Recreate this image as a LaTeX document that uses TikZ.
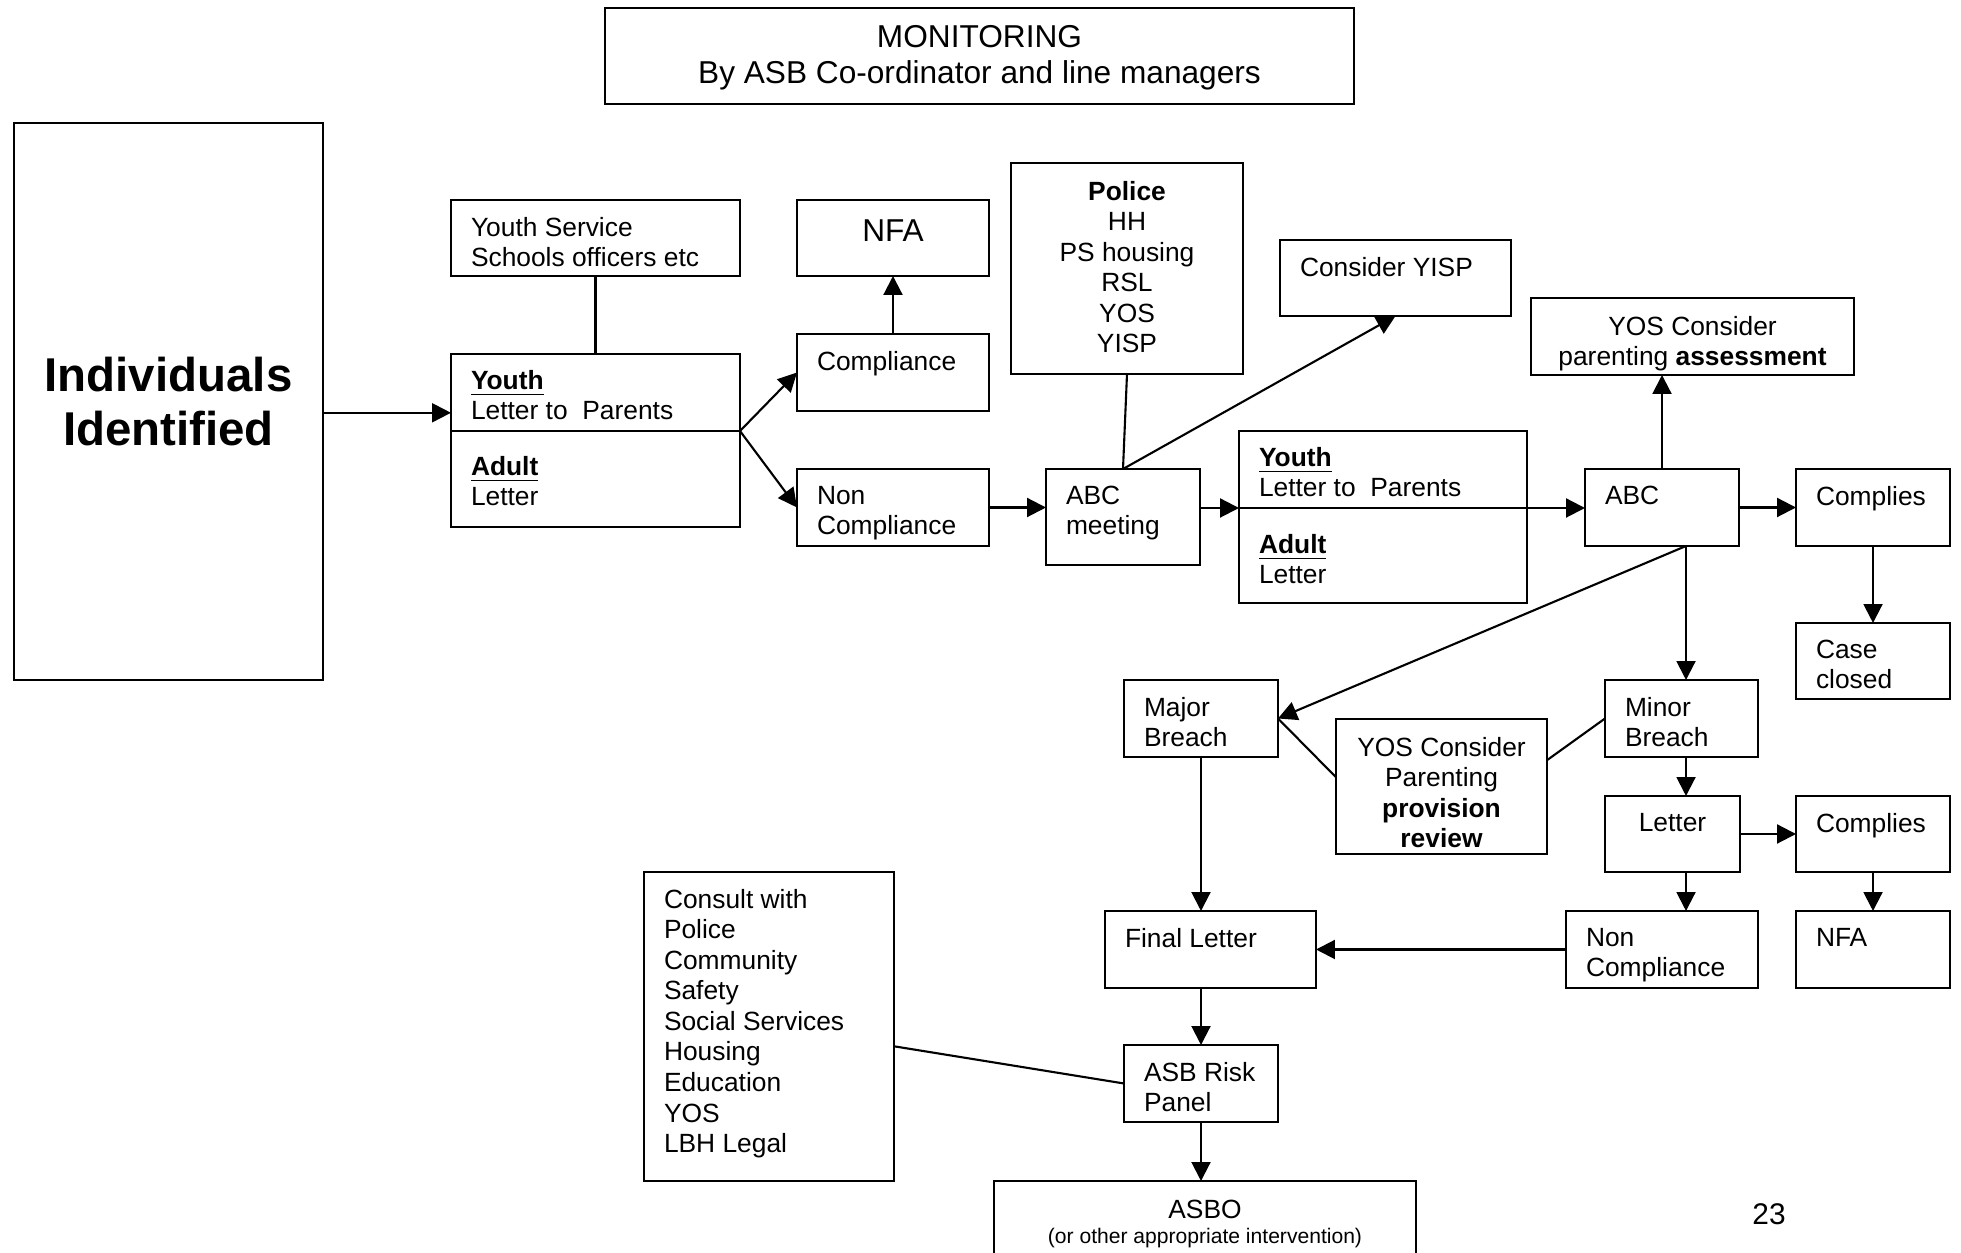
\documentclass[tikz,border=0pt]{standalone}
\usepackage{fontspec}
\setmainfont{Liberation Sans}
\usetikzlibrary{arrows.meta}

\newcommand{\boxtl}[4][1.7]{\parbox[c][#3mm][t]{#2mm}{\raggedright\leftskip=2mm\vskip#1mm\relax#4}}
\newcommand{\boxtc}[4][1.7]{\parbox[c][#3mm][t]{#2mm}{\centering\vskip#1mm\relax#4}}

\begin{document}
\begin{tikzpicture}[
    x=0.1mm, y=-0.1mm,
    box/.style={rectangle, draw, line width=0.65pt, inner sep=0pt, outer sep=0pt, anchor=north west, font=\fontsize{7.5}{8.7}\selectfont},
    arrow/.style={-{Triangle[length=5.4pt,width=5.4pt]}, line width=0.6pt},
    link/.style={line width=0.6pt}
]
\useasboundingbox (0,0) rectangle (1961,1253);

\node[box, font=\fontsize{9}{10.3}\selectfont] (monitor) at (605,8) {\boxtc{74.9}{9.6}{MONITORING\\By ASB Co-ordinator and line managers}};
\node[box, minimum width=30.9mm, minimum height=55.7mm, align=center, font=\fontsize{13.5}{15.6}\selectfont\bfseries] (indiv) at (14,123) {Individuals\\Identified};

\node[box] (yserv) at (451,200) {\boxtl{28.9}{7.6}{Youth Service\\Schools officers etc}};
\node[box] (ya1t) at (451,354) {\boxtl[1.6]{28.9}{7.7}{\underline{\textbf{Youth}}\\Letter to~ Parents}};
\node[box] (ya1b) at (451,431) {\boxtl[2.5]{28.9}{9.6}{\underline{\textbf{Adult}}\\Letter}};
\node[box, font=\fontsize{9}{10.3}\selectfont] (nfa1) at (797,200) {\boxtc[2.0]{19.2}{7.6}{NFA}};
\node[box] (compl) at (797,334) {\boxtl{19.2}{7.7}{Compliance}};
\node[box] (ncompl) at (797,469) {\boxtl{19.2}{7.7}{Non\\Compliance}};
\node[box] (police) at (1011,163) {\boxtc[1.8]{23.2}{21.1}{\textbf{Police}\\HH\\PS housing\\RSL\\YOS\\YISP}};
\node[box] (abcm) at (1046,469) {\boxtl{15.4}{9.6}{ABC\\meeting}};
\node[box] (yisp) at (1280,240) {\boxtl{23.1}{7.6}{Consider YISP}};
\node[box] (ya2t) at (1239,431) {\boxtl[1.6]{28.8}{7.7}{\underline{\textbf{Youth}}\\Letter to~ Parents}};
\node[box] (ya2b) at (1239,508) {\boxtl[2.6]{28.8}{9.5}{\underline{\textbf{Adult}}\\Letter}};
\node[box] (yospa) at (1531,298) {\boxtc[1.8]{32.3}{7.7}{YOS Consider\\parenting \textbf{assessment}}};
\node[box] (abc) at (1585,469) {\boxtl{15.4}{7.7}{ABC}};
\node[box] (comp1) at (1796,469) {\boxtl{15.4}{7.7}{Complies}};
\node[box] (closed) at (1796,623) {\boxtl{15.4}{7.6}{Case\\closed}};
\node[box] (major) at (1124,680) {\boxtl{15.4}{7.7}{Major\\Breach}};
\node[box] (yospr) at (1336,719) {\boxtc[1.8]{21.1}{13.5}{YOS Consider\\Parenting\\\textbf{provision}\\\textbf{review}}};
\node[box] (minor) at (1605,680) {\boxtl{15.3}{7.7}{Minor\\Breach}};
\node[box] (letter) at (1605,796) {\boxtc{13.5}{7.6}{Letter}};
\node[box] (comp2) at (1796,796) {\boxtl{15.4}{7.6}{Complies}};
\node[box] (final) at (1105,911) {\boxtl{21.1}{7.7}{Final Letter}};
\node[box] (ncomp2) at (1566,911) {\boxtl{19.2}{7.7}{Non\\Compliance}};
\node[box] (nfa2) at (1796,911) {\boxtl{15.4}{7.7}{NFA}};
\node[box] (consult) at (644,872) {\boxtl{25.0}{30.9}{Consult with\\Police\\Community\\Safety\\Social Services\\Housing\\Education\\YOS\\LBH Legal}};
\node[box] (risk) at (1124,1045) {\boxtl{15.4}{7.7}{ASB Risk\\Panel}};
\node[box] (asbo) at (994,1181) {\boxtc[1.9]{42.2}{9.0}{ASBO\\[-1.5pt]{\fontsize{6}{7.5}\selectfont(or other appropriate intervention)}}};
\node[font=\fontsize{8.5}{10}\selectfont] (pagenum) at (1769,1214) {23};

\draw[arrow] (ya1t.188 -| indiv.east) -- (ya1t.188);
\draw[link] (yserv.south) -- (yserv.south |- ya1t.north);
\draw[arrow] (ya1t.south east) -- (compl.west);
\draw[arrow] (ya1t.south east) -- (ncompl.west);
\draw[arrow] (compl.north) -- (nfa1.south);
\draw[arrow] (ncompl.east) -- (ncompl.east -| abcm.west);
\draw[link] (police.south) -- (abcm.north);
\draw[arrow] (abcm.north) -- (yisp.south);
\draw[arrow] (ya2t.south west -| abcm.east) -- (ya2t.south west);
\draw[arrow] (ya2t.south east) -- (ya2t.south east -| abc.west);
\draw[arrow] (abc.north) -- (abc.north |- yospa.south);
\draw[arrow] (abc.east) -- (comp1.west);
\draw[arrow] (comp1.south) -- (closed.north);
\draw[arrow] ([xshift=0.45mm]minor.north |- abc.south) -- ([xshift=0.45mm]minor.north);
\draw[arrow] ([xshift=0.45mm]minor.north |- abc.south) -- (major.east);
\draw[link] (major.east) -- (yospr.175);
\draw[link] (minor.west) -- (yospr.14);
\draw[arrow] ([xshift=0.45mm]minor.south) -- ([xshift=0.45mm]minor.south |- letter.north);
\draw[arrow] (letter.east) -- (comp2.west);
\draw[arrow] ([xshift=0.45mm]minor.south |- letter.south) -- ([xshift=0.45mm]minor.south |- ncomp2.north);
\draw[arrow] (comp2.south) -- (nfa2.north);
\draw[arrow] (ncomp2.west) -- (final.east);
\draw[arrow] (major.south) -- (major.south |- final.north);
\draw[arrow] (risk.north |- final.south) -- (risk.north);
\draw[link] (consult.-9) -- (risk.west);
\draw[arrow] (risk.south) -- (risk.south |- asbo.north);

\end{tikzpicture}
\end{document}
